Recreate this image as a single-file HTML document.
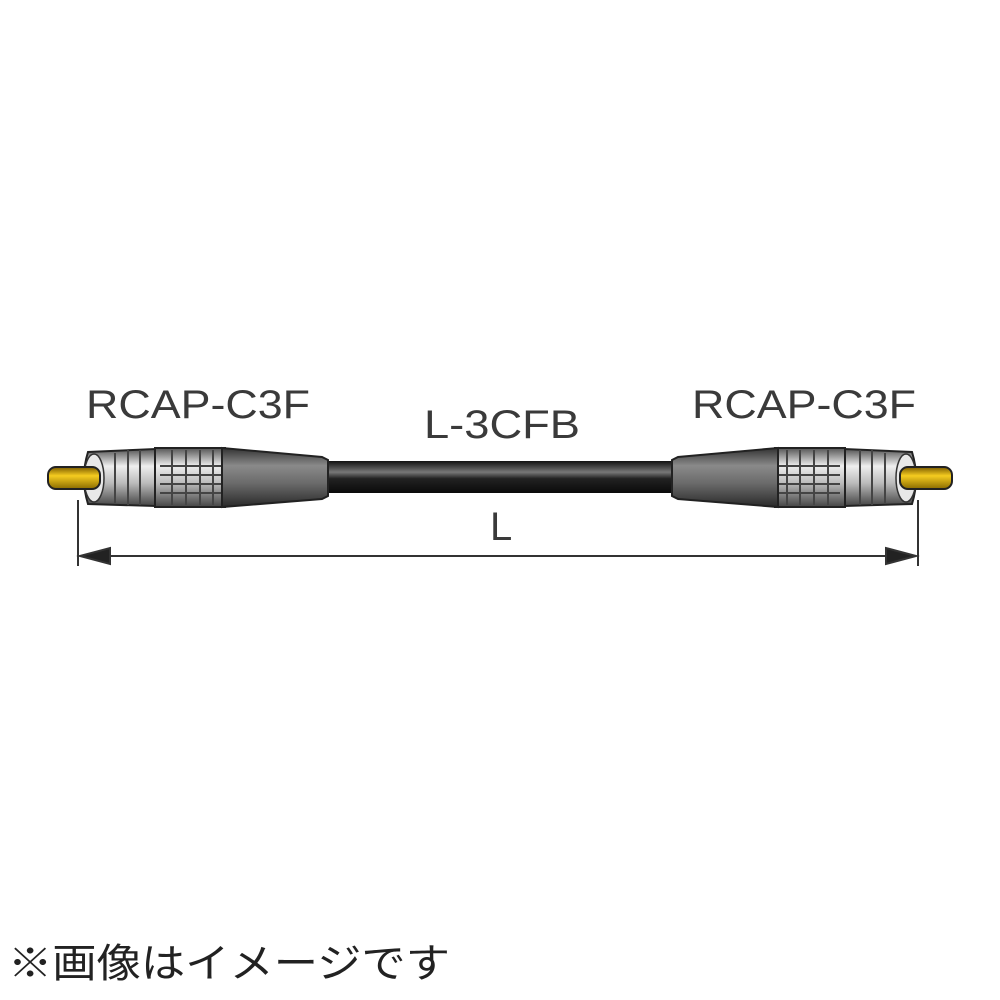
<!DOCTYPE html>
<html><head><meta charset="utf-8"><style>
html,body{margin:0;padding:0;background:#fff;width:1000px;height:1000px;overflow:hidden}
svg{display:block}
text{font-family:"Liberation Sans","Noto Sans CJK JP",sans-serif;fill:#3a3a3a}
</style></head><body>
<svg width="1000" height="1000" viewBox="0 0 1000 1000">
<defs>
<linearGradient id="cab" x1="0" y1="0" x2="0" y2="1"><stop offset="0" stop-color="#111"/><stop offset="0.35" stop-color="#777"/><stop offset="0.55" stop-color="#222"/><stop offset="1" stop-color="#0a0a0a"/></linearGradient>
<linearGradient id="gr" x1="0" y1="0" x2="0" y2="1"><stop offset="0" stop-color="#333"/><stop offset="0.3" stop-color="#8a8a8a"/><stop offset="0.6" stop-color="#6a6a6a"/><stop offset="1" stop-color="#2a2a2a"/></linearGradient>
<linearGradient id="sil" x1="0" y1="0" x2="0" y2="1"><stop offset="0" stop-color="#555"/><stop offset="0.3" stop-color="#eee"/><stop offset="0.6" stop-color="#bbb"/><stop offset="1" stop-color="#444"/></linearGradient>
<linearGradient id="gold" x1="0" y1="0" x2="0" y2="1"><stop offset="0" stop-color="#7a5a00"/><stop offset="0.4" stop-color="#f5cc20"/><stop offset="1" stop-color="#8a6a00"/></linearGradient>
<g id="conn">
<path d="M88 452 Q80 478 88 504 L155 506 L155 449 Z" fill="url(#sil)" stroke="#222" stroke-width="2"/>
<ellipse cx="94" cy="478" rx="10" ry="24" fill="#e8e8e8" stroke="#333" stroke-width="1.5"/>
<rect x="48" y="467" width="52" height="22" rx="8" fill="url(#gold)" stroke="#222" stroke-width="2"/>
<rect x="155" y="448" width="70" height="59" fill="url(#sil)" stroke="#222" stroke-width="2"/>
<g stroke="#444" stroke-width="2">
<line x1="115" y1="453" x2="115" y2="503"/><line x1="128" y1="450" x2="128" y2="505"/><line x1="140" y1="450" x2="140" y2="505"/>
<line x1="160" y1="466" x2="222" y2="466"/><line x1="160" y1="475" x2="222" y2="475"/><line x1="160" y1="484" x2="222" y2="484"/><line x1="160" y1="493" x2="222" y2="493"/>
<line x1="172" y1="450" x2="172" y2="505"/><line x1="186" y1="450" x2="186" y2="505"/><line x1="200" y1="450" x2="200" y2="505"/><line x1="213" y1="450" x2="213" y2="505"/>
</g>
<path d="M222 448 L322 457 L328 460 L328 496 L322 499 L222 507 Z" fill="url(#gr)" stroke="#222" stroke-width="2"/>
</g>
</defs>
<rect x="320" y="461" width="360" height="32" fill="url(#cab)"/>
<use href="#conn"/>
<use href="#conn" transform="translate(1000,0) scale(-1,1)"/>
<g stroke="#333" stroke-width="2" fill="#222">
<line x1="78" y1="500" x2="78" y2="566"/>
<line x1="918" y1="500" x2="918" y2="566"/>
<line x1="80" y1="556" x2="916" y2="556"/>
<polygon points="80,556 110,548 110,564"/>
<polygon points="916,556 886,548 886,564"/>
</g>
<text x="86" y="418" font-size="40" textLength="224" lengthAdjust="spacingAndGlyphs">RCAP-C3F</text>
<text x="692" y="418" font-size="40" textLength="224" lengthAdjust="spacingAndGlyphs">RCAP-C3F</text>
<text x="424" y="438" font-size="40" textLength="156" lengthAdjust="spacingAndGlyphs">L-3CFB</text>
<text x="490" y="540" font-size="40">L</text>
<text x="8" y="977" font-size="40" textLength="442" lengthAdjust="spacingAndGlyphs" style="fill:#222">※画像はイメージです</text>
</svg>
</body></html>
